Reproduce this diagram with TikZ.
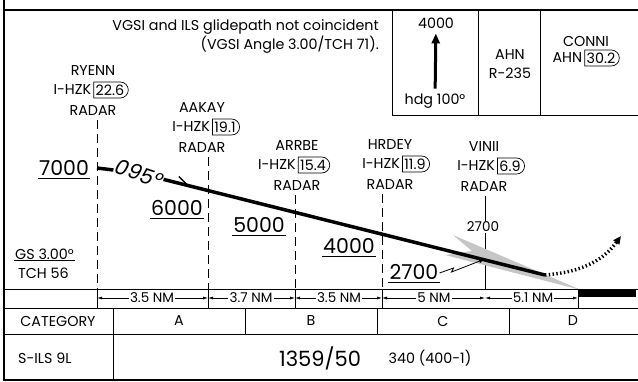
\documentclass[tikz,border=0pt]{standalone}
\usepackage{fontspec}
\setmainfont{Poppins}
\newfontfamily\slantfont{Poppins}[FakeSlant=0.2]
\usepackage{tikz}
\usetikzlibrary{positioning}
\usetikzlibrary{shapes.misc}
\usetikzlibrary{arrows.meta}
\usetikzlibrary{decorations.markings}

\begin{document}
\begin{tikzpicture}[x=1pt,y=-1pt,
		txt/.style={font=\fontsize{14.3}{16}\selectfont,inner sep=1pt},
		small/.style={font=\fontsize{13.5}{15}\selectfont,inner sep=1pt},
		alt/.style={font=\fontsize{20.5}{22}\selectfont,inner sep=1pt,text depth=2pt},
		dme/.style={txt,draw,line width=0.7pt,rounded rectangle,rounded rectangle west arc=none,inner xsep=2pt,inner ysep=1pt,minimum height=16pt},
		fixline/.style={line width=0.8pt,dash pattern=on 9pt off 5pt},
		grid/.style={line width=0.8pt},
		frame/.style={line width=2pt},
		dist/.style={-{Latex[length=5pt,width=3pt]},line width=0.6pt},
		track/.style={line width=3.5pt},
	]
	\useasboundingbox (0,0) rectangle (638,381);
	\draw[frame] (4,0) -- (4,380) -- (638,380);
	\draw[frame] (4,10) -- (638,10);
	\draw[grid] (392,10) -- (392,115) -- (638,115);
	\draw[grid] (478,10) -- (478,115);
	\draw[grid] (540,10) -- (540,115);
	
	\node[txt,anchor=east] (note1) at (380,27) {VGSI and ILS glidepath not coincident};
	\node[txt,anchor=east] (note2) at (380,45) {(VGSI Angle 3.00/TCH 71).};
	\node[txt] (hdgalt) at (436,23) {4000};
	\node[txt] (hdg) at (435,101) {hdg 100°};
	\draw[line width=3pt,-{Triangle[length=10pt,width=8pt]},shorten <=4pt,shorten >=4pt] (hdg) -- (hdgalt);
	\node[txt] (ahn) at (510,55) {AHN};
	\node[txt] (rad) at (510,73) {R-235};
	\node[dme] (conni-d) at (601,58) {30.2};
	\node[txt,left=1pt of conni-d] (conni-a) {AHN};
	\node[txt] (conni) at (586,41) {CONNI};
	
	\foreach \nm/\fix/\gx/\bx/\lx/\by/\dm in {ryenn/RYENN/97/110/93/90/22.6,aakay/AAKAY/208/225/202/127/19.1,arrbe/ARRBE/295/313/297/165/15.4,hrdey/HRDEY/382/415/390/164/11.9,vinii/VINII/485/510/484/166/6.9}{
		\coordinate (\nm-g) at (\gx,289);
		\node[dme] (\nm-d) at (\bx,\by) {\dm};
		\node[txt,left=1pt of \nm-d] (\nm-i) {I-HZK};
		\node[txt] (\nm-n) at (\lx,\by-19) {\fix};
		\node[txt] (\nm-r) at (\lx,\by+21) {RADAR};
	}
	\foreach \nm in {ryenn,aakay,arrbe,hrdey}
		\draw[fixline] ([yshift=-3pt]\nm-r.south -| \nm-g) -- (\nm-g);
	
	\node[small] (fafalt) at (483,227) {2700};
	\draw[grid] ([yshift=-3pt]vinii-r.south -| vinii-g) -- (fafalt.north -| vinii-g);
	\draw[grid] (fafalt.south -| vinii-g) -- (vinii-g);
	
	\fill[gray!45] (453,235) -- (581,290) -- (445,255) -- (472,251) -- cycle;
	
	\node[alt] (a7000) at (64,169) {7000};
	\node[alt] (a6000) at (177,209) {6000};
	\node[alt] (a5000) at (259,226) {5000};
	\node[alt] (a4000) at (349,247) {4000};
	\node[alt] (a2700) at (414,273) {2700};
	\node[txt,anchor=west] (gs) at (14,254) {GS 3.00°};
	\node[txt,anchor=west] (tch) at (17,273) {TCH 56};
	\foreach \n in {a7000,a6000,a5000,a4000,a2700,gs}
		\draw[grid] (\n.south west) -- (\n.south east);
	
	\coordinate (p0) at (97,168);
	\node[inner sep=0pt,font=\slantfont\fontsize{21}{23}\selectfont,rotate=-18] (crs) at (138,173) {095°};
	\coordinate (fap) at (485,259);
	\coordinate (mapt) at (545,275);
	\draw[track] (p0) -- (crs);
	\draw[track,shorten <=2pt,postaction={decorate},decoration={markings,mark=at position 0.075 with {\arrow[line width=1.4pt]{Straight Barb[left,length=11pt,width=13pt]}}}] (crs) -- (mapt);
	\draw[line width=0.8pt,-{Latex[length=6pt,width=4pt]}] (a2700.east) -- ++(14,-5) -- ++(-2,4) -- (fap);
	\coordinate (mtip) at (621,236);
	\draw[line width=3.5pt,dash pattern=on 1.4pt off 2.4pt,-{Triangle[length=8pt,width=7pt]}] (mapt) .. controls (585,272) and (605,258) .. (mtip);
	
	\draw[grid] (4,289) -- (638,289);
	\draw[grid] (4,308) -- (638,308);
	\draw[grid] (4,334) -- (638,334);
	\coordinate (thr) at (578,289);
	\foreach \nm in {ryenn-g,aakay-g,arrbe-g,hrdey-g,thr}
		\draw[grid] (\nm) -- ++(0,19);
	\fill (578,290) rectangle (636,297);
	
	\node[small] (d1) at (152,298) {3.5 NM};
	\node[small] (d2) at (251,298) {3.7 NM};
	\node[small] (d3) at (339,298) {3.5 NM};
	\node[small] (d4) at (434,298) {5 NM};
	\node[small] (d5) at (533,298) {5.1 NM};
	\path[dist]
	(d1) edge (d1 -| ryenn-g)
	edge (d1 -| aakay-g)
	(d2) edge (d2 -| aakay-g)
	edge (d2 -| arrbe-g)
	(d3) edge (d3 -| arrbe-g)
	edge (d3 -| hrdey-g)
	(d4) edge (d4 -| hrdey-g)
	edge (d4 -| vinii-g)
	(d5) edge (d5 -| vinii-g)
	edge (d5 -| thr)
	;
	
	\foreach \x in {113,245,377,509}
		\draw[grid] (\x,308) -- (\x,334);
	\draw[grid] (113,334) -- (113,380);
	\node[txt] (cat) at (58,321) {CATEGORY};
	\node[txt] (cata) at (179,321) {A};
	\node[txt] (catb) at (311,321) {B};
	\node[txt] (catc) at (443,321) {C};
	\node[txt] (catd) at (573,321) {D};
	\node[txt,anchor=west] (appr) at (17,358) {S-ILS 9L};
	\node[inner sep=1pt,font=\fontsize{21}{23}\selectfont] (mda) at (320,358) {1359/50};
	\node[txt] (hat) at (430,358) {340 (400-1)};
\end{tikzpicture}
\end{document}
